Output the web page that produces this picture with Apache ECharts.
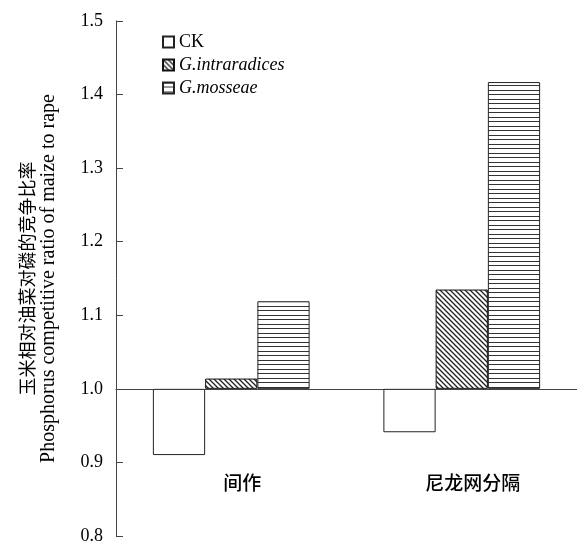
<!DOCTYPE html>
<html>
<head>
<meta charset="utf-8">
<script src="https://cdn.jsdelivr.net/npm/echarts@6/dist/echarts.min.js"></script>
<style>
  html, body { margin: 0; padding: 0; background: #fff; }
  #main { width: 577px; height: 542px; }
</style>
</head>
<body>
<div id="main"></div>
<script>
// data
var categories = ['间作', '尼龙网分隔'];
var seriesNames = ['CK', 'G.intraradices', 'G.mosseae'];
var ckValues = [0.910, 0.941];
var intraValues = [1.014, 1.135];
var mosseaeValues = [1.119, 1.417];
var baseline = 1.0; // bars grow from 1.0
var yMin = 0.8, yMax = 1.5, yStep = 0.1;

// hatch patterns
function diagPattern() {
  var c = document.createElement('canvas');
  c.width = 5; c.height = 5;
  var ctx = c.getContext('2d');
  ctx.fillStyle = '#fff';
  ctx.fillRect(0, 0, 5, 5);
  ctx.strokeStyle = '#222';
  ctx.lineWidth = 1.3;
  ctx.beginPath();
  ctx.moveTo(-1, -1); ctx.lineTo(6, 6);
  ctx.moveTo(-1, 4); ctx.lineTo(1, 6);
  ctx.moveTo(4, -1); ctx.lineTo(6, 1);
  ctx.stroke();
  return c;
}
function horizPattern() {
  var c = document.createElement('canvas');
  c.width = 4; c.height = 9;
  var ctx = c.getContext('2d');
  ctx.fillStyle = '#fff';
  ctx.fillRect(0, 0, 4, 9);
  ctx.fillStyle = '#333';
  ctx.fillRect(0, 0, 4, 1);
  ctx.fillRect(0, 4, 4, 1);
  return c;
}

function shift(arr) {
  return arr.map(function (v) { return +(v - baseline).toFixed(4); });
}

var chart = echarts.init(document.getElementById('main'));

var barCommon = {
  type: 'bar',
  xAxisIndex: 0,
  barGap: 0,
  barCategoryGap: '32%',
  emphasis: { disabled: true }
};

var option = {
  animation: false,
  backgroundColor: '#fff',
  grid: { left: 116, right: 0, top: 21, bottom: 6, containLabel: false, outerBoundsMode: 'none' },
  legend: {
    orient: 'vertical',
    left: 157,
    top: 28,
    itemWidth: 11,
    itemHeight: 11,
    itemGap: 5,
    icon: 'rect',
    selectedMode: false,
    data: seriesNames,
    textStyle: {
      fontFamily: 'Liberation Serif',
      fontSize: 18,
      color: '#000',
      rich: {
        it: { fontFamily: 'Liberation Serif', fontSize: 18, fontStyle: 'italic', color: '#000' }
      }
    },
    formatter: function (name) {
      return name === 'CK' ? name : '{it|' + name + '}';
    }
  },
  xAxis: [
    {
      // line at 1.0 with upward ticks
      type: 'category',
      data: categories,
      axisLine: { onZero: true, lineStyle: { color: '#444', width: 1 } },
      axisTick: { inside: true, length: 7, lineStyle: { color: '#444' } },
      axisLabel: { show: false },
      splitLine: { show: false }
    },
    {
      // category labels only
      type: 'category',
      data: categories,
      position: 'bottom',
      axisLine: { show: false, onZero: false },
      axisTick: { show: false },
      axisLabel: {
        margin: -63,
        padding: [0, 0, 0, 22],
        fontFamily: 'Noto Sans CJK SC',
        fontSize: 19,
        fontWeight: 500,
        color: '#000'
      },
      splitLine: { show: false }
    }
  ],
  yAxis: {
    type: 'value',
    min: yMin - baseline,
    max: yMax - baseline,
    interval: yStep,
    axisLine: { show: true, lineStyle: { color: '#444', width: 1 } },
    axisTick: { show: true, inside: true, length: 7, lineStyle: { color: '#444' } },
    axisLabel: {
      margin: 13,
      fontFamily: 'Liberation Serif',
      fontSize: 18,
      color: '#000',
      formatter: function (v) { return (v + baseline).toFixed(1); }
    },
    splitLine: { show: false },
    name: '{cn|玉米相对油菜对磷的竞争比率}\n{en|Phosphorus competitive ratio of maize to rape}',
    nameLocation: 'middle',
    nameRotate: 90,
    nameGap: 57,
    nameTextStyle: {
      color: '#000',
      rich: {
        cn: { fontFamily: 'Noto Sans CJK SC', fontSize: 18, lineHeight: 21 },
        en: { fontFamily: 'Liberation Serif', fontSize: 20, lineHeight: 21 }
      }
    }
  },
  series: [
    Object.assign({}, barCommon, {
      name: seriesNames[0],
      data: shift(ckValues),
      itemStyle: { color: '#fff', borderColor: '#222', borderWidth: 1 }
    }),
    Object.assign({}, barCommon, {
      name: seriesNames[1],
      data: shift(intraValues),
      itemStyle: {
        color: { image: diagPattern(), repeat: 'repeat' },
        borderColor: '#111', borderWidth: 1
      }
    }),
    Object.assign({}, barCommon, {
      name: seriesNames[2],
      data: shift(mosseaeValues),
      itemStyle: {
        color: { image: horizPattern(), repeat: 'repeat' },
        borderColor: '#222', borderWidth: 1
      }
    })
  ]
};

chart.setOption(option);
</script>
</body>
</html>
